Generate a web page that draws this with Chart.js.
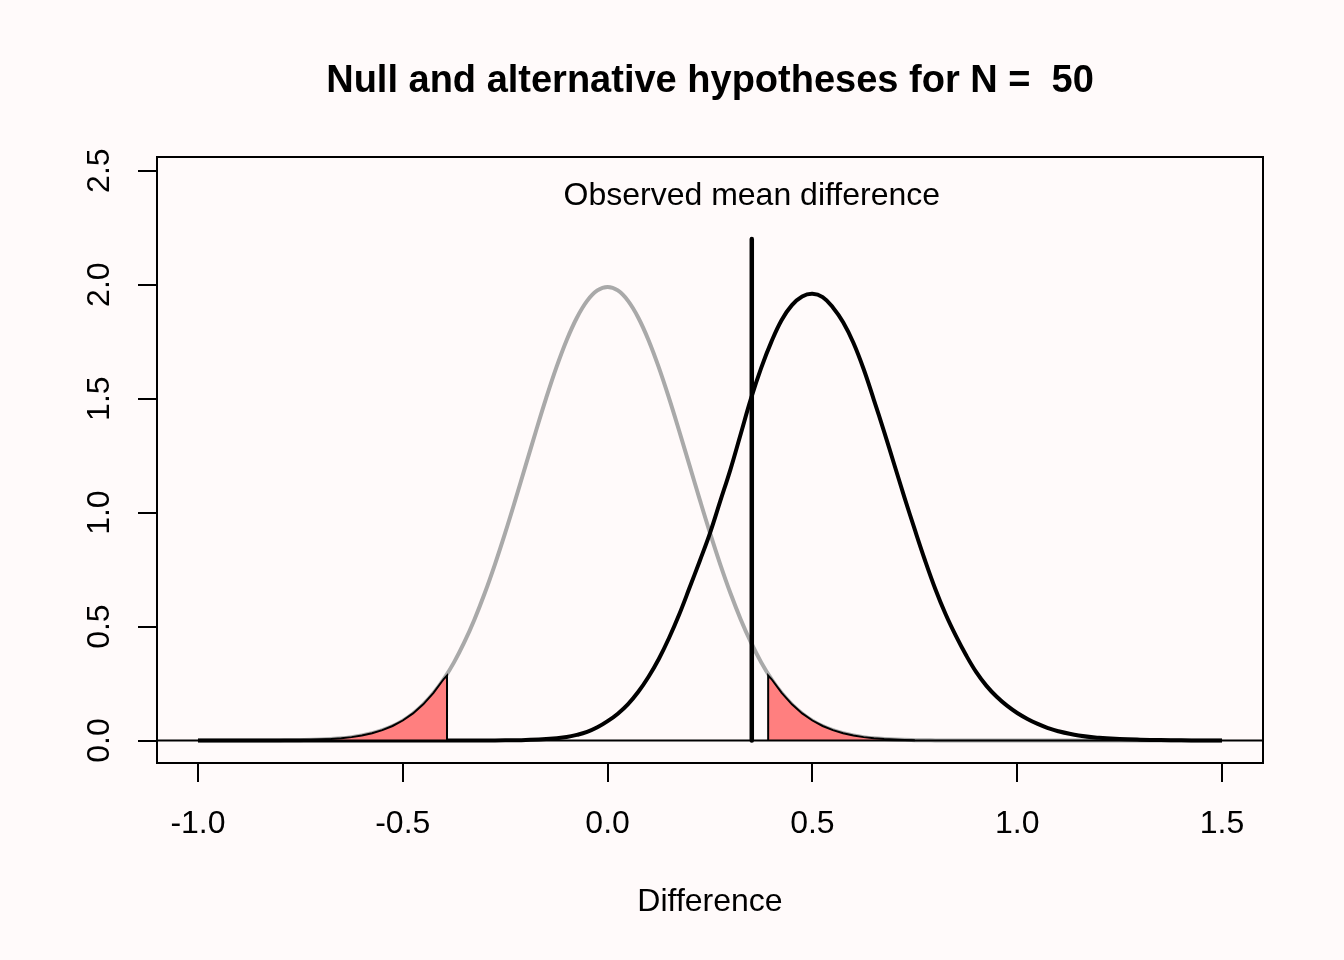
<!DOCTYPE html>
<html>
<head>
<meta charset="utf-8">
<script src="https://cdn.jsdelivr.net/npm/chart.js@4.4.1/dist/chart.umd.min.js"></script>
<style>
  html, body { margin: 0; padding: 0; background: #fffafa; }
  canvas { display: block; }
</style>
</head>
<body>
<canvas id="canvas-1" width="1344" height="960"></canvas>
<script>
// null hypothesis density (gray)
var nullX = [-1.0, -0.95, -0.9, -0.85, -0.8, -0.75, -0.7, -0.65,
  -0.625, -0.6, -0.575, -0.55, -0.525, -0.5, -0.475, -0.45, -0.425, -0.4,
  -0.375, -0.35, -0.325, -0.3, -0.275, -0.25, -0.225, -0.2, -0.175, -0.15,
  -0.125, -0.1, -0.075, -0.05, -0.025, 0.0, 0.025, 0.05, 0.075, 0.1,
  0.125, 0.15, 0.175, 0.2, 0.225, 0.25, 0.275, 0.3, 0.325, 0.35,
  0.375, 0.4, 0.425, 0.45, 0.475, 0.5, 0.525, 0.55, 0.575, 0.6, 0.625,
  0.65, 0.7, 0.75, 0.8, 0.85, 0.9, 0.95, 1.0, 1.05, 1.1, 1.15, 1.2, 1.25,
  1.3, 1.35, 1.4, 1.45, 1.5];
var nullY = [0, 0, 0, 0.0002, 0.0007, 0.0018, 0.0044, 0.0102,
  0.0151, 0.0221, 0.0319, 0.0454, 0.0635, 0.0874, 0.1186, 0.1583, 0.2081, 0.2693,
  0.3431, 0.4304, 0.5315, 0.6461, 0.7732, 0.9111, 1.0569, 1.207, 1.3571, 1.5021,
  1.6369, 1.7562, 1.8549, 1.9288, 1.9745, 1.99, 1.9745, 1.9288, 1.8549, 1.7562,
  1.6369, 1.5021, 1.3571, 1.207, 1.0569, 0.9111, 0.7732, 0.6461, 0.5315, 0.4304,
  0.3431, 0.2693, 0.2081, 0.1583, 0.1186, 0.0874, 0.0635, 0.0454, 0.0319, 0.0221, 0.0151,
  0.0102, 0.0044, 0.0018, 0.0007, 0.0002, 0, 0, 0, 0, 0, 0, 0, 0,
  0, 0, 0, 0, 0];

// alternative hypothesis density (black), a little skewed to the right
var altX = [-1.0, -0.95, -0.9, -0.85, -0.8, -0.75, -0.7, -0.65, -0.6, -0.55,
  -0.5, -0.45, -0.4, -0.35, -0.3, -0.25, -0.2, -0.15,
  -0.1, -0.075, -0.05, -0.025, 0.0, 0.025, 0.05, 0.075, 0.1, 0.125,
  0.15, 0.175, 0.2, 0.225, 0.25, 0.275, 0.3, 0.325, 0.35, 0.375,
  0.4, 0.425, 0.45, 0.475, 0.5, 0.525, 0.55, 0.575, 0.6, 0.625,
  0.65, 0.675, 0.7, 0.725, 0.75, 0.775, 0.8, 0.825, 0.85, 0.875,
  0.9, 0.925, 0.95, 0.975, 1.0, 1.025, 1.05, 1.075, 1.1,
  1.15, 1.2, 1.25, 1.3, 1.35, 1.4, 1.45, 1.5];
var altY = [0, 0, 0, 0, 0, 0, 0, 0, 0, 0,
  0, 0, 0, 0, 0.0003, 0.001, 0.003, 0.007,
  0.016, 0.025, 0.038, 0.058, 0.085, 0.118, 0.16, 0.214, 0.28, 0.358,
  0.45, 0.554, 0.67, 0.788, 0.91, 1.05, 1.19, 1.345, 1.50, 1.635,
  1.75, 1.845, 1.91, 1.948, 1.96, 1.945, 1.90, 1.835, 1.745, 1.63,
  1.495, 1.355, 1.21, 1.065, 0.925, 0.79, 0.665, 0.555, 0.46, 0.375,
  0.30, 0.24, 0.192, 0.153, 0.121, 0.095, 0.073, 0.055, 0.041,
  0.022, 0.012, 0.007, 0.004, 0.002, 0.001, 0.0005, 0.0002];

// rejection regions under the null
var leftTailX = [-0.75, -0.725, -0.7, -0.675, -0.65, -0.625, -0.6, -0.575, -0.55,
  -0.525, -0.5, -0.475, -0.45, -0.425, -0.4, -0.392, -0.392];
var leftTailY = [0.0018, 0.0028, 0.0044, 0.0067, 0.0102, 0.0151, 0.022, 0.032, 0.046,
  0.064, 0.088, 0.119, 0.159, 0.209, 0.270, 0.285, 0];
var rightTailX = [0.392, 0.392, 0.4, 0.425, 0.45, 0.475, 0.5, 0.525, 0.55,
  0.575, 0.6, 0.625, 0.65, 0.675, 0.7, 0.725, 0.75];
var rightTailY = [0, 0.285, 0.270, 0.209, 0.159, 0.119, 0.088, 0.064, 0.046,
  0.032, 0.022, 0.0151, 0.0102, 0.0067, 0.0044, 0.0028, 0.0018];

// observed mean difference
var obsDiff = 0.352;
var obsRange = [0, 2.2];
var obsLabelY = 2.4;

var xTicks = [-1.0, -0.5, 0.0, 0.5, 1.0, 1.5];
var xTickLabels = ['-1.0', '-0.5', '0.0', '0.5', '1.0', '1.5'];
var yTicks = [0, 0.5, 1.0, 1.5, 2.0, 2.5];
var yTickLabels = ['0.0', '0.5', '1.0', '1.5', '2.0', '2.5'];

var FONT = '"Liberation Sans", Arial, sans-serif';

function pts(xs, ys) {
  return xs.map(function (x, i) { return {x: x, y: ys[i]}; });
}

var rPlot = {
  id: 'rPlot',
  beforeDraw: function (chart) {
    var ctx = chart.ctx;
    ctx.save();
    ctx.fillStyle = '#fffafa';
    ctx.fillRect(0, 0, chart.width, chart.height);
    ctx.restore();
  },
  afterDatasetsDraw: function (chart) {
    var ctx = chart.ctx, a = chart.chartArea;
    var xs = chart.scales.x, ys = chart.scales.y;
    ctx.save();
    // horizontal line at zero
    ctx.strokeStyle = '#000';
    ctx.lineWidth = 2;
    var y0 = ys.getPixelForValue(0);
    ctx.beginPath();
    ctx.moveTo(a.left, y0);
    ctx.lineTo(a.right, y0);
    ctx.stroke();
    // box
    ctx.strokeRect(a.left, a.top, a.right - a.left, a.bottom - a.top);
    // label, sitting a touch below the middle baseline like R's text()
    ctx.fillStyle = '#000';
    ctx.font = '32px ' + FONT;
    ctx.textAlign = 'center';
    ctx.textBaseline = 'middle';
    ctx.fillText('Observed mean difference', xs.getPixelForValue(obsDiff), ys.getPixelForValue(obsLabelY) + 3);
    ctx.restore();
  }
};

var chart = new Chart(document.getElementById('canvas-1'), {
  type: 'line',
  data: {
    datasets: [{
      data: pts([obsDiff, obsDiff], obsRange),
      borderColor: '#000',
      borderWidth: 4.5,
      borderCapStyle: 'round',
      pointRadius: 0
    }, {
      data: pts(leftTailX, leftTailY),
      borderColor: '#000',
      borderWidth: 2,
      backgroundColor: '#ff7f7f',
      fill: 'origin',
      tension: 0,
      pointRadius: 0
    }, {
      data: pts(rightTailX, rightTailY),
      borderColor: '#000',
      borderWidth: 2,
      backgroundColor: '#ff7f7f',
      fill: 'origin',
      tension: 0,
      pointRadius: 0
    }, {
      data: pts(altX, altY),
      borderColor: '#000',
      borderWidth: 4,
      tension: 0.4,
      pointRadius: 0
    }, {
      data: pts(nullX, nullY),
      borderColor: '#a9a9a9',
      borderWidth: 4,
      tension: 0.4,
      pointRadius: 0
    }]
  },
  options: {
    responsive: false,
    animation: false,
    devicePixelRatio: 1,
    layout: { padding: { top: 0, right: 81, bottom: 0, left: 0 } },
    plugins: {
      legend: { display: false },
      tooltip: { enabled: false },
      title: {
        display: true,
        fullSize: false,
        text: 'Null and alternative hypotheses for N =  50',
        color: '#000',
        font: { family: FONT, size: 38, weight: 'bold', lineHeight: 1.2 },
        padding: { top: 59.2, bottom: 52.2 }
      }
    },
    scales: {
      x: {
        type: 'linear',
        min: -1.1,
        max: 1.6,
        afterBuildTicks: function (scale) {
          scale.ticks = xTicks.map(function (v) { return {value: v}; });
        },
        afterFit: function (scale) { scale.height = 197; },
        border: { display: false },
        grid: { drawOnChartArea: false, drawTicks: true, tickLength: 19, color: '#000', lineWidth: 2 },
        ticks: {
          color: '#000',
          font: { family: FONT, size: 32, lineHeight: 1.2 },
          padding: 23,
          maxRotation: 0,
          callback: function (v, i) { return xTickLabels[i]; }
        },
        title: {
          display: true,
          text: 'Difference',
          color: '#000',
          font: { family: FONT, size: 32, lineHeight: 1.2 },
          padding: { top: 0, bottom: 38.8 }
        }
      },
      y: {
        type: 'linear',
        min: -0.0984,
        max: 2.56,
        afterBuildTicks: function (scale) {
          scale.ticks = yTicks.map(function (v) { return {value: v}; });
        },
        afterFit: function (scale) { scale.width = 157; },
        border: { display: false },
        grid: { drawOnChartArea: false, drawTicks: true, tickLength: 19, color: '#000', lineWidth: 2 },
        ticks: {
          color: '#000',
          font: { family: FONT, size: 32, lineHeight: 1.2 },
          padding: 16,
          minRotation: 90,
          maxRotation: 90,
          crossAlign: 'center',
          callback: function (v, i) { return yTickLabels[i]; }
        }
      }
    }
  },
  plugins: [rPlot]
});
</script>
</body>
</html>
